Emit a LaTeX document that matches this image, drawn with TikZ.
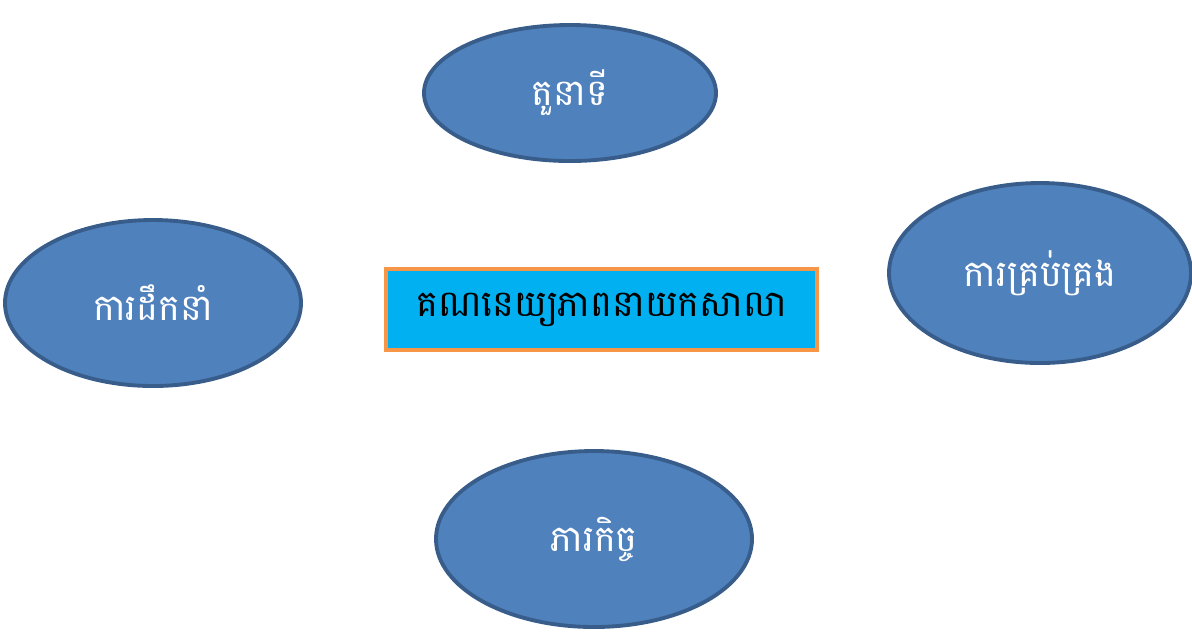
\documentclass[tikz,border=0pt]{standalone}
\usepackage{fontspec}
\newfontfamily\khmer[Script=Khmer]{Battambang}
\usetikzlibrary{shapes.geometric}
\definecolor{ellfill}{HTML}{4F81BD}
\definecolor{elldraw}{HTML}{385D8A}
\definecolor{boxfill}{HTML}{00B0F0}
\definecolor{boxdraw}{HTML}{F79646}

\begin{document}
\begin{tikzpicture}[every node/.style={font=\khmer\fontsize{10.4pt}{12pt}\selectfont,inner sep=0},
  oval/.style={ellipse,draw=elldraw,fill=ellfill,line width=1.1pt,text=white}]
        \useasboundingbox (0,0) rectangle (11.92,-6.31);
        \node[oval,minimum width=2.92cm,minimum height=1.36cm] (1) at (5.70,-0.93) {តួនាទី};
        \node[oval,minimum width=2.96cm,minimum height=1.66cm] (2) at (1.53,-3.03) {ការដឹកនាំ};
        \node[oval,minimum width=3.02cm,minimum height=1.80cm] (3) at (10.40,-2.73) {ការគ្រប់គ្រង};
        \node[oval,minimum width=3.16cm,minimum height=1.76cm] (4) at (5.94,-5.39) {ភារកិច្ច};
        \node[draw=boxdraw,fill=boxfill,line width=1.3pt,minimum width=4.31cm,minimum height=0.81cm] (0) at (6.015,-3.095) {គណនេយ្យភាពនាយកសាលា};
      \end{tikzpicture}
\end{document}
